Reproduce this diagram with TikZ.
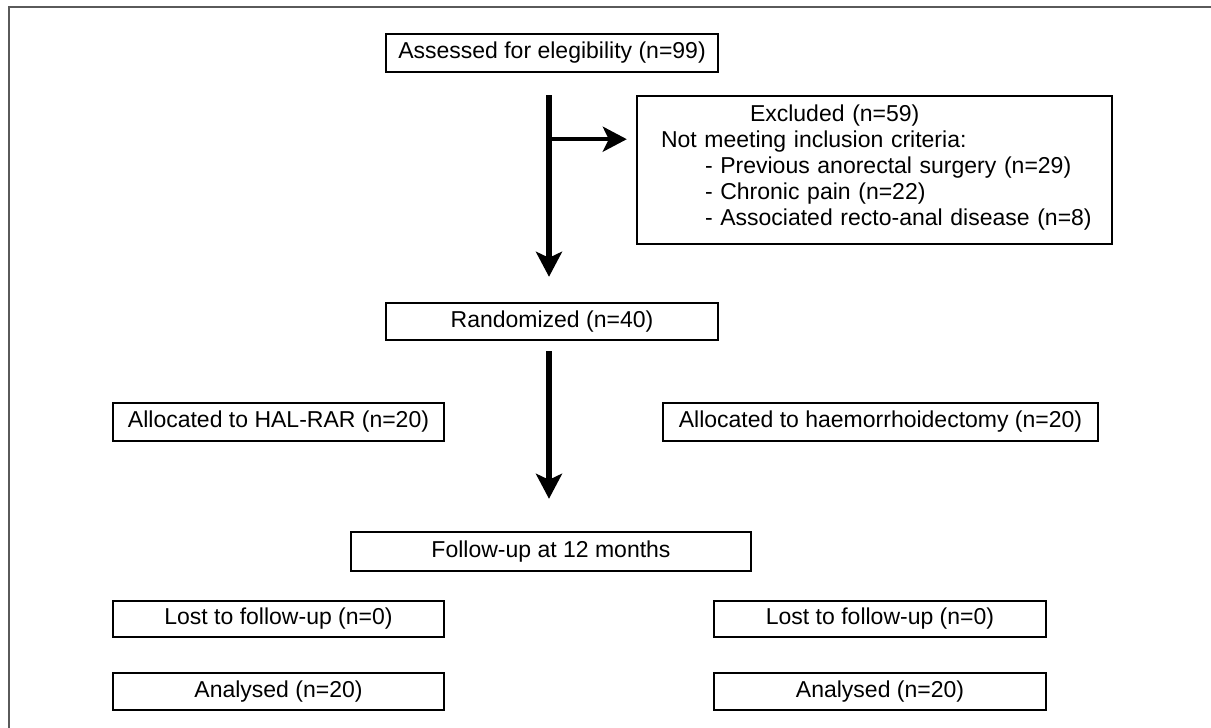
\documentclass[tikz,border=0pt]{standalone}
\usepackage{fontspec}
\setmainfont{Liberation Sans}
\usetikzlibrary{arrows.meta,calc}
\definecolor{framegray}{RGB}{90,90,90}

\begin{document}
\begin{tikzpicture}[x=0.5pt,y=-0.5pt,
  cbox/.style={draw,line width=1.2pt,inner sep=0pt,minimum height=19pt,
    font=\fontsize{11.5pt}{12.9pt}\selectfont},
  downarr/.style={line width=3pt,-{Stealth[length=12.5pt,width=13pt,inset=3pt]}},
  sidearr/.style={line width=2pt,-{Stealth[length=12pt,width=12.5pt,inset=3pt]}}]

  \useasboundingbox (0,0) rectangle (1211,728);
  \draw[framegray,line width=0.8pt] (9,728) -- (9,7) -- (1211,7);

  \node[cbox,minimum width=166pt] (assess) at (552,53) {Assessed for elegibility (n=99)};

  \node[cbox,minimum width=237.5pt,minimum height=74pt,inner xsep=12pt,
    text width=213.5pt,align=left] (excl) at (874.5,170)
    {\hspace*{44.5pt}Excluded (n=59)\\
     Not meeting inclusion criteria:\\
     \hspace*{22pt}- Previous anorectal surgery (n=29)\\
     \hspace*{22pt}- Chronic pain (n=22)\\
     \hspace*{22pt}\mbox{- Associated recto-anal disease (n=8)}\\[-8pt]\mbox{}};

  \node[cbox,minimum width=166pt,minimum height=18.5pt] (rand) at (552,321.5) {Randomized (n=40)};

  \node[cbox,minimum width=165.5pt] (hal) at (278.5,422) {Allocated to HAL-RAR (n=20)};
  \node[cbox,minimum width=217.5pt] (haem) at (880.5,422) {Allocated to haemorrhoidectomy (n=20)};

  \node[cbox,minimum width=200pt,minimum height=19.5pt] (follow) at (551,551.5) {Follow-up at 12 months};

  \node[cbox,minimum width=165.5pt,minimum height=18pt] (lostL) at (278.5,619) {Lost to follow-up (n=0)};
  \node[cbox,minimum width=166pt,minimum height=18pt] (lostR) at (880,619) {Lost to follow-up (n=0)};

  \node[cbox,minimum width=165.5pt,minimum height=18.5pt] (anaL) at (278.5,691.5) {Analysed (n=20)};
  \node[cbox,minimum width=166pt,minimum height=18.5pt] (anaR) at (880,691.5) {Analysed (n=20)};

  % arrows
  \coordinate (br) at ($(assess.south)+(-3,66)$);
  \draw[downarr,shorten <=11pt,shorten >=12.5pt] ([xshift=-1.5pt]assess.south) -- ([xshift=-1.5pt]rand.north);
  \draw[sidearr,shorten >=4.5pt] ([xshift=-1.5pt]br) -- (excl.west |- br);
  \draw[downarr,shorten <=5pt,shorten >=16pt] ([xshift=-1.5pt]rand.south) -- ([xshift=-1pt]follow.north);

\end{tikzpicture}
\end{document}
